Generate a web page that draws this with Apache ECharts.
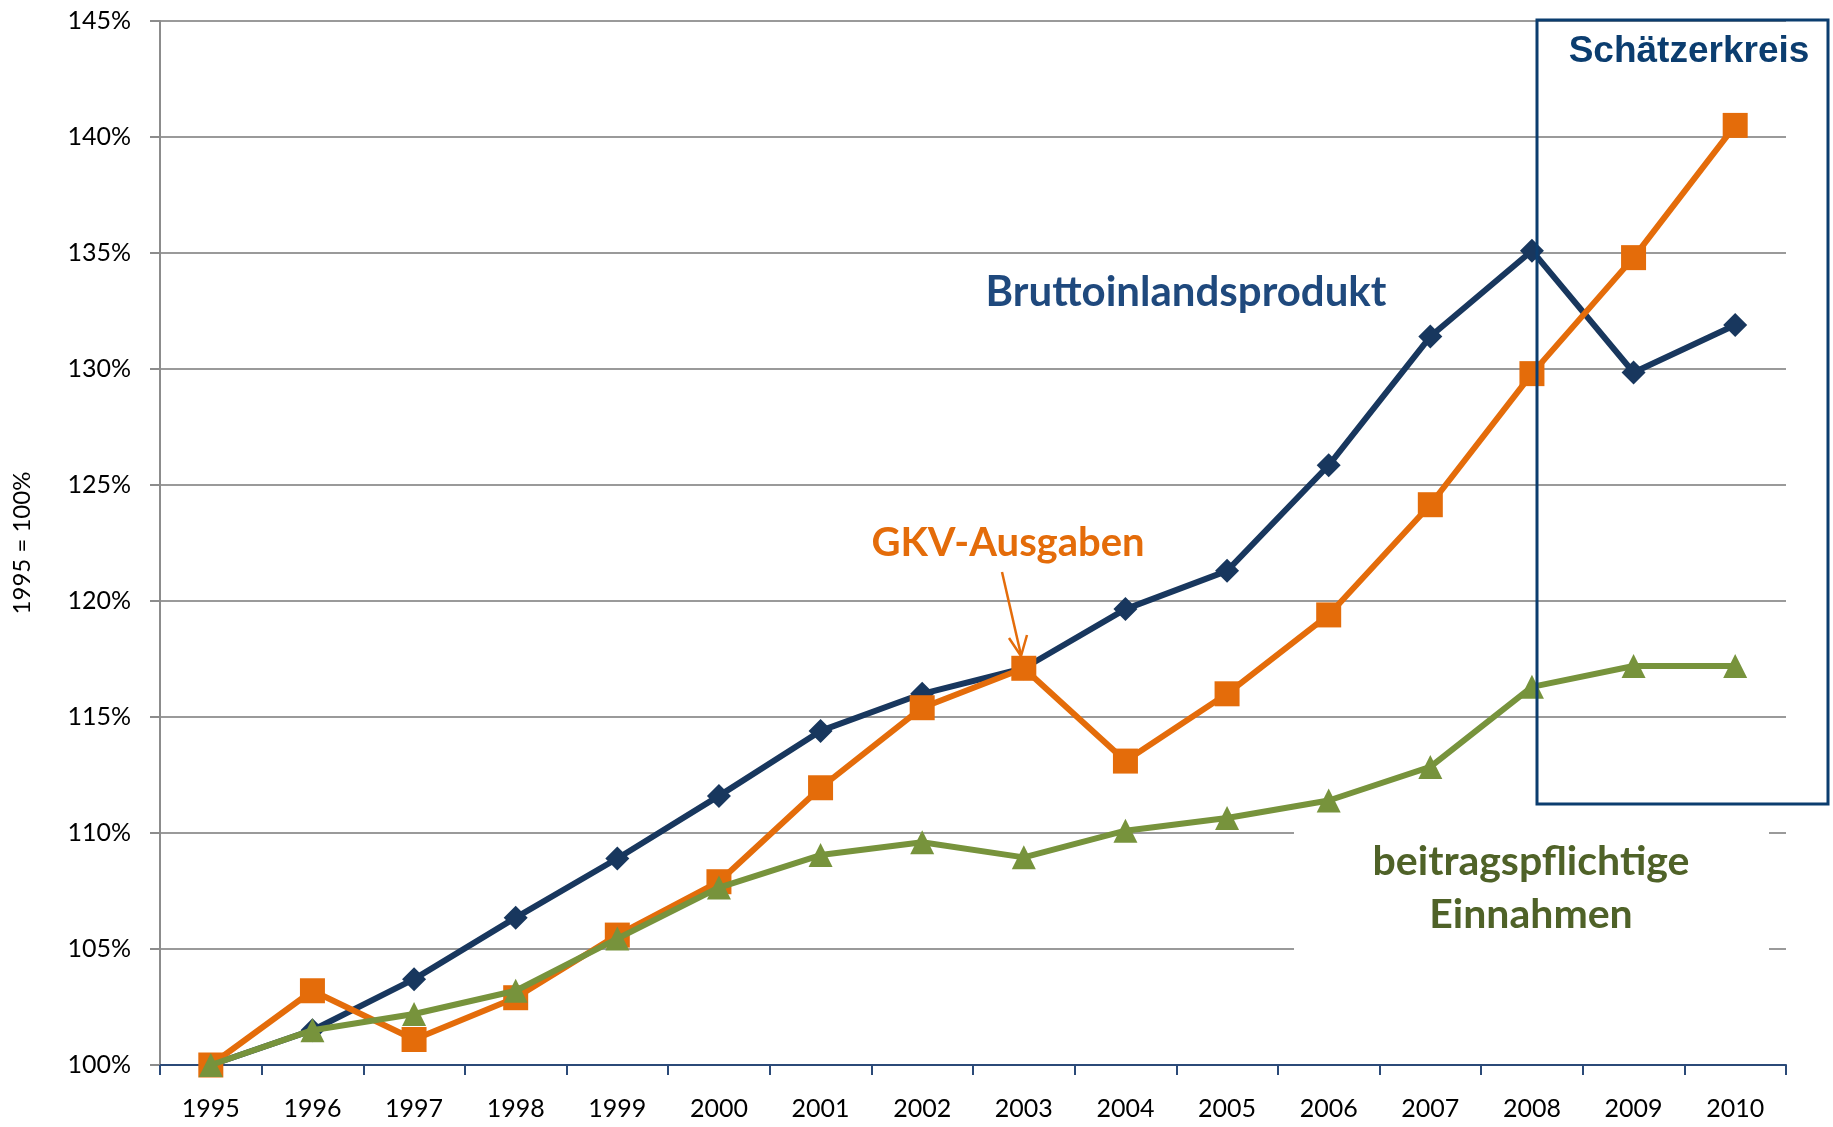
<!DOCTYPE html>
<html>
<head>
<meta charset="utf-8">
<script src="https://cdn.jsdelivr.net/npm/echarts@6/dist/echarts.min.js"></script>
<style>
  html, body { margin: 0; padding: 0; background: #fff; }
  #chart { width: 1833px; height: 1127px; }
</style>
</head>
<body>
<div id="chart"></div>
<script>
const years = ['1995', '1996', '1997', '1998', '1999', '2000', '2001', '2002',
  '2003', '2004', '2005', '2006', '2007', '2008', '2009', '2010']

// Index 1995 = 100%
const bip = [100, 101.5, 103.7, 106.35, 108.9, 111.6, 114.4, 116.0,
  117.1, 119.65, 121.3, 125.85, 131.4, 135.1, 129.85, 131.9]
const gkvAusgaben = [100, 103.2, 101.1, 102.9, 105.6, 107.9, 111.95, 115.4,
  117.1, 113.1, 116.0, 119.4, 124.15, 129.8, 134.8, 140.5]
const einnahmen = [100, 101.5, 102.2, 103.2, 105.45, 107.65, 109.05, 109.6,
  108.95, 110.1, 110.65, 111.4, 112.85, 116.3, 117.2, 117.2]

const yMin = 100
const yMax = 145
const yStep = 5

const navy = '#18375e'
const orange = '#e46c0a'
const green = '#77933c'
const labelFont = 'Lato, "Open Sans", sans-serif'

const chart = echarts.init(document.getElementById('chart'))

chart.setOption({
  backgroundColor: '#fff',
  animation: false,
  grid: { left: 160, right: 47, top: 21, bottom: 62 },
  xAxis: {
    type: 'category',
    data: years,
    boundaryGap: true,
    axisLine: { lineStyle: { color: '#2b4a78', width: 2 } },
    axisTick: { show: true, length: 10, lineStyle: { color: '#2b4a78', width: 2 } },
    axisLabel: { color: '#000', fontSize: 25, fontFamily: labelFont, margin: 31 },
    splitLine: { show: false }
  },
  yAxis: {
    type: 'value',
    min: yMin,
    max: yMax,
    interval: yStep,
    name: '1995 = 100%',
    nameLocation: 'middle',
    nameGap: 126,
    nameRotate: 90,
    nameTextStyle: { color: '#000', fontSize: 24, fontFamily: labelFont },
    axisLine: { show: true, lineStyle: { color: '#8c8c8c', width: 2 } },
    axisTick: { show: true, length: 10, lineStyle: { color: '#8c8c8c', width: 2 } },
    axisLabel: {
      color: '#000', fontSize: 25, fontFamily: labelFont, margin: 29,
      formatter: '{value}%'
    },
    splitLine: { lineStyle: { color: '#9a9a9a', width: 2 } }
  },
  series: [
    {
      name: 'Bruttoinlandsprodukt',
      type: 'line',
      data: bip,
      symbol: 'path://M0,-1L1,0L0,1L-1,0Z',
      symbolSize: 24,
      lineStyle: { color: navy, width: 6 },
      itemStyle: { color: navy },
      z: 3
    },
    {
      name: 'GKV-Ausgaben',
      type: 'line',
      data: gkvAusgaben,
      symbol: 'rect',
      symbolSize: 25,
      lineStyle: { color: orange, width: 6 },
      itemStyle: { color: orange },
      z: 4
    },
    {
      name: 'beitragspflichtige Einnahmen',
      type: 'line',
      data: einnahmen,
      symbol: 'triangle',
      symbolSize: 24,
      lineStyle: { color: green, width: 6 },
      itemStyle: { color: green },
      z: 5
    }
  ],
  graphic: [
    // white label background breaking the gridlines
    {
      type: 'rect', z: 1,
      shape: { x: 1294, y: 818, width: 475, height: 148 },
      style: { fill: '#fff' }
    },
    {
      type: 'text', z: 10,
      style: {
        text: 'beitragspflichtige', x: 1531, y: 862,
        align: 'center', verticalAlign: 'middle',
        font: 'bold 41px Lato, sans-serif', fill: '#4f6228'
      }
    },
    {
      type: 'text', z: 10,
      style: {
        text: 'Einnahmen', x: 1531, y: 915,
        align: 'center', verticalAlign: 'middle',
        font: 'bold 41px Lato, sans-serif', fill: '#4f6228'
      }
    },
    {
      type: 'text', z: 10,
      style: {
        text: 'Bruttoinlandsprodukt', x: 1186, y: 292,
        align: 'center', verticalAlign: 'middle',
        font: 'bold 42px Lato, sans-serif', fill: '#1f497d'
      }
    },
    {
      type: 'text', z: 10,
      style: {
        text: 'GKV-Ausgaben', x: 1008, y: 543,
        align: 'center', verticalAlign: 'middle',
        font: 'bold 40px Lato, sans-serif', fill: orange
      }
    },
    // arrow to the 2003 GKV point
    {
      type: 'line', z: 10,
      shape: { x1: 1002, y1: 572, x2: 1021, y2: 655 },
      style: { stroke: orange, lineWidth: 2.5 }
    },
    {
      type: 'polyline', z: 10,
      shape: { points: [[1009, 638], [1021, 656], [1027, 635]] },
      style: { stroke: orange, lineWidth: 2.5, fill: null }
    },
    // Schätzerkreis box
    {
      type: 'rect', z: 20,
      shape: { x: 1537, y: 20, width: 291, height: 784 },
      style: { fill: null, stroke: '#0b3d6f', lineWidth: 3 }
    },
    {
      type: 'text', z: 20,
      style: {
        text: 'Schätzerkreis', x: 1689, y: 52,
        align: 'center', verticalAlign: 'middle',
        font: 'bold 37px "Liberation Sans", Arial, sans-serif', fill: '#0b3d6f'
      }
    }
  ]
})
</script>
</body>
</html>
